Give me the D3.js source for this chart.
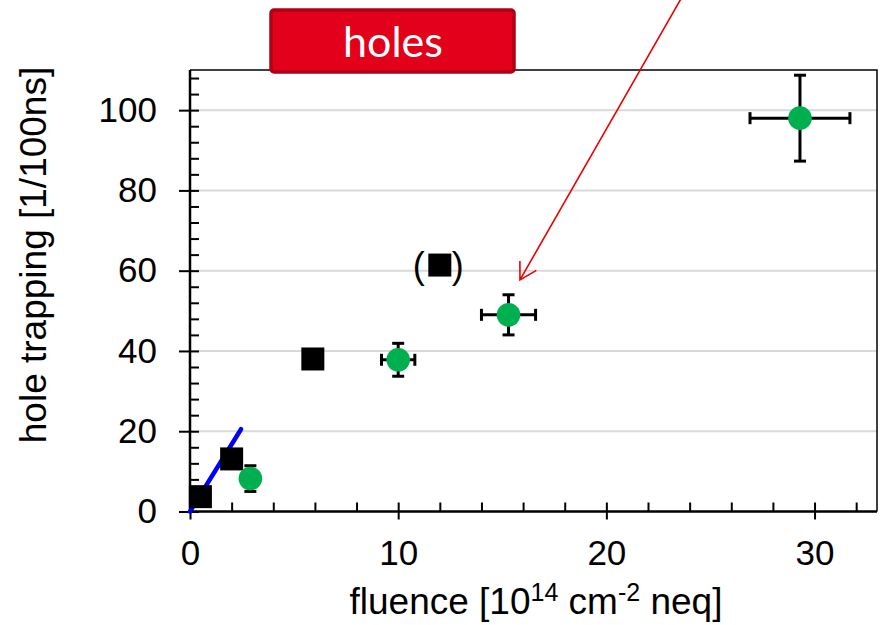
<!DOCTYPE html>
<html>
<head>
<meta charset="utf-8">
<script src="https://cdn.jsdelivr.net/npm/d3@7"></script>
<style>
  body { margin: 0; background: #fff; }
  svg { display: block; }
  .lbl { font-family: "Liberation Sans", Arial, sans-serif; fill: #000; }
</style>
</head>
<body>
<div id="chart"></div>
<script>
// -------------------- Data --------------------
const squareFluence = [0.5, 2.0, 5.9, 12.0];
const squareTrap    = [3.7, 13.1, 38.0, 61.4];

const circleFluence = [2.9, 10.0, 15.3, 29.3];
const circleTrap    = [8.2, 37.8, 49.0, 98.0];
const circleXErr    = [0, 0.8, 1.3, 2.4];
const circleYErr    = [3.2, 4.1, 5.0, 10.7];

const fitFluence = [0, 2.45];
const fitTrap    = [0, 20.5];

const xTicks = [0, 10, 20, 30];
const yTicks = [0, 20, 40, 60, 80, 100];
const xMinor = d3.range(0, 33, 2);
const yMinor = d3.range(0, 111, 4);

// bracketed point and arrow annotation (data coords)
const bracketIndex = 3;
const arrowFrom = [23.7, 128.8];
const arrowTo   = [15.85, 57.7];

// -------------------- SVG --------------------
const width = 883, height = 625;
const svg = d3.select("#chart").append("svg")
  .attr("width", width).attr("height", height);

const x = d3.scaleLinear().domain([0, 33]).range([190, 877]);
const y = d3.scaleLinear().domain([0, 110]).range([511.5, 70]);

// grid
svg.append("g").selectAll("line")
  .data(yTicks.filter(d => d > 0))
  .join("line")
  .attr("x1", x(0)).attr("x2", x(33))
  .attr("y1", d => y(d)).attr("y2", d => y(d))
  .attr("stroke", "#d9d9d9").attr("stroke-width", 2);

// frame top / right
svg.append("path")
  .attr("d", `M${x(0)},${y(110)}H${x(33)}V${y(0)}`)
  .attr("fill", "none").attr("stroke", "#000").attr("stroke-width", 1.5);

// -------------------- Axes --------------------
const tickFont = 35;

const xMinorAxis = svg.append("g")
  .attr("transform", `translate(0,${y(0)})`)
  .call(d3.axisTop(x).tickValues(xMinor).tickSize(9).tickFormat(""));
const xMajorAxis = svg.append("g")
  .attr("transform", `translate(0,${y(0)})`)
  .call(d3.axisBottom(x).tickValues(xTicks).tickSize(8).tickPadding(21).tickFormat(d3.format("d")));

const yMinorAxis = svg.append("g")
  .attr("transform", `translate(${x(0)},0)`)
  .call(d3.axisRight(y).tickValues(yMinor).tickSize(9).tickFormat(""));
const yMajorAxis = svg.append("g")
  .attr("transform", `translate(${x(0)},0)`)
  .call(d3.axisLeft(y).tickValues(yTicks).tickSize(11).tickPadding(22).tickFormat(d3.format("d")));

[xMinorAxis, xMajorAxis, yMinorAxis, yMajorAxis].forEach(g => {
  g.select(".domain").remove();
  g.selectAll(".tick line").attr("stroke", "#000").attr("stroke-width", 2);
  g.selectAll(".tick text")
    .attr("class", "lbl")
    .style("font-size", tickFont + "px")
    .attr("fill", "#000");
});

// axis lines
svg.append("path")
  .attr("d", `M${x(0)},${y(110)}V${y(0)}H${x(33)}`)
  .attr("fill", "none").attr("stroke", "#000").attr("stroke-width", 2.5);

// axis titles
svg.append("text").attr("class", "lbl")
  .attr("x", 536).attr("y", 614)
  .attr("text-anchor", "middle")
  .style("font-size", "37px")
  .call(t => {
    t.append("tspan").text("fluence [10");
    t.append("tspan").attr("dy", -13).style("font-size", "25px").text("14");
    t.append("tspan").attr("dy", 13).text(" cm");
    t.append("tspan").attr("dy", -13).style("font-size", "25px").text("-2");
    t.append("tspan").attr("dy", 13).text(" neq]");
  });

svg.append("text").attr("class", "lbl")
  .attr("transform", "translate(46,255) rotate(-90)")
  .attr("text-anchor", "middle")
  .style("font-size", "37px")
  .text("hole trapping [1/100ns]");

// -------------------- Fit line --------------------
svg.append("path")
  .datum(fitFluence.map((f, i) => [f, fitTrap[i]]))
  .attr("d", d3.line().x(d => x(d[0])).y(d => y(d[1])))
  .attr("stroke", "#0000ff").attr("stroke-width", 4.5)
  .attr("stroke-linecap", "round").attr("fill", "none");

// -------------------- Error bars --------------------
const circles = circleFluence.map((f, i) => ({
  f, t: circleTrap[i], ex: circleXErr[i], ey: circleYErr[i]
}));
const capHalf = 6;
const eb = svg.append("g").attr("stroke", "#000").attr("stroke-width", 3);
circles.forEach(d => {
  const cx = x(d.f), cy = y(d.t);
  if (d.ey > 0) {
    eb.append("line").attr("x1", cx).attr("x2", cx).attr("y1", y(d.t - d.ey)).attr("y2", y(d.t + d.ey));
    [d.t - d.ey, d.t + d.ey].forEach(v =>
      eb.append("line").attr("x1", cx - capHalf).attr("x2", cx + capHalf).attr("y1", y(v)).attr("y2", y(v)));
  }
  if (d.ex > 0) {
    eb.append("line").attr("y1", cy).attr("y2", cy).attr("x1", x(d.f - d.ex)).attr("x2", x(d.f + d.ex));
    [d.f - d.ex, d.f + d.ex].forEach(v =>
      eb.append("line").attr("y1", cy - capHalf).attr("y2", cy + capHalf).attr("x1", x(v)).attr("x2", x(v)));
  }
});

// -------------------- Squares --------------------
const sq = 23;
svg.append("g").selectAll("rect")
  .data(squareFluence.map((f, i) => ({ f, t: squareTrap[i] })))
  .join("rect")
  .attr("x", d => x(d.f) - sq / 2).attr("y", d => y(d.t) - sq / 2)
  .attr("width", sq).attr("height", sq)
  .attr("fill", "#000");

// brackets round the doubtful point
const bx = x(squareFluence[bracketIndex]), by = y(squareTrap[bracketIndex]);
svg.append("text").attr("class", "lbl").attr("x", bx - 15).attr("y", by + 13)
  .attr("text-anchor", "end").style("font-size", "36px").text("(");
svg.append("text").attr("class", "lbl").attr("x", bx + 12).attr("y", by + 13)
  .attr("text-anchor", "start").style("font-size", "36px").text(")");

// -------------------- Circles --------------------
svg.append("g").selectAll("circle")
  .data(circles)
  .join("circle")
  .attr("cx", d => x(d.f)).attr("cy", d => y(d.t))
  .attr("r", 11.8)
  .attr("fill", "#00b050");

// -------------------- Arrow --------------------
const ax0 = x(arrowFrom[0]), ay0 = y(arrowFrom[1]);
const ax1 = x(arrowTo[0]), ay1 = y(arrowTo[1]);
const ang = Math.atan2(ay0 - ay1, ax0 - ax1);
const head = 19;
svg.append("path")
  .attr("d", `M${ax0},${ay0}L${ax1},${ay1}` +
    `M${ax1 + head * Math.cos(ang - Math.PI / 6)},${ay1 + head * Math.sin(ang - Math.PI / 6)}` +
    `L${ax1},${ay1}` +
    `L${ax1 + head * Math.cos(ang + Math.PI / 6)},${ay1 + head * Math.sin(ang + Math.PI / 6)}`)
  .attr("fill", "none").attr("stroke", "#ee0000").attr("stroke-width", 1.6);

// -------------------- "holes" box --------------------
svg.append("rect")
  .attr("x", 271).attr("y", 10).attr("width", 243).attr("height", 62)
  .attr("rx", 3)
  .attr("fill", "#e2001a").attr("stroke", "#b00018").attr("stroke-width", 3.5);
svg.append("text")
  .attr("x", 393).attr("y", 57)
  .attr("text-anchor", "middle")
  .style("font-family", "Lato, 'Open Sans', sans-serif")
  .style("font-size", "43px")
  .attr("fill", "#fff")
  .text("holes");
</script>
</body>
</html>
